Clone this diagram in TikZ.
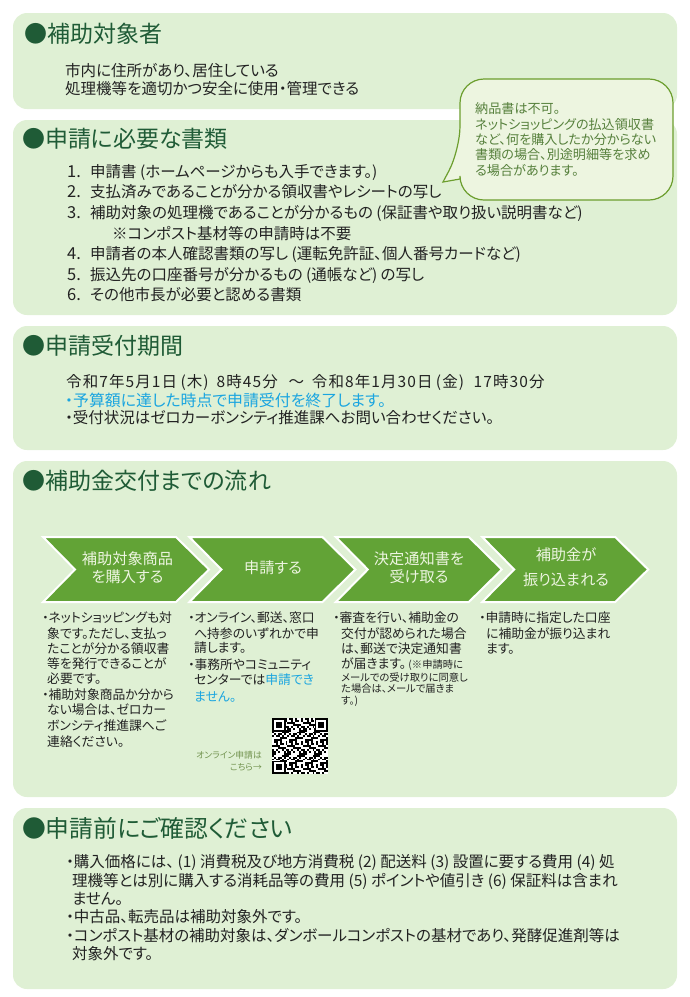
\documentclass[tikz,border=0pt]{standalone}
\usepackage{fontspec}
\setmainfont{Noto Sans CJK JP}[RawFeature=+palt]
\definecolor{panelgreen}{HTML}{DFF0D4}
\definecolor{headgreen}{HTML}{1F5B36}
\definecolor{arrowgreen}{HTML}{62A336}
\definecolor{notefill}{HTML}{EDF5E0}
\definecolor{noteline}{HTML}{6C9E2E}
\definecolor{notetext}{HTML}{56803C}
\definecolor{bodyink}{HTML}{222222}
\definecolor{skyblue}{HTML}{1AA5E0}
\definecolor{labelolive}{HTML}{72934F}
\newcommand{\lp}{\hspace{.22em}(}
\newcommand{\rp}{)\hspace{.22em}}
\tikzset{
  panel/.style={fill=panelgreen,rounded corners=14pt},
  txt/.style={anchor=west,inner sep=0pt,text=bodyink,font=\fontsize{15.5}{18}\selectfont},
  heading/.style={txt,text=headgreen,font=\fontsize{23}{26}\selectfont},
  small/.style={txt,font=\fontsize{12.8}{15}\selectfont},
  tiny/.style={txt,font=\fontsize{10.3}{12}\selectfont},
  notetxt/.style={txt,text=notetext,font=\fontsize{13.1}{15}\selectfont},
  arrowlabel/.style={inner sep=0pt,text=notefill,font=\fontsize{15.2}{18}\selectfont},
  chevron/.style={fill=arrowgreen,draw=white,line width=2pt,line join=miter},
}
\begin{document}
\begin{tikzpicture}[x=1pt,y=-1pt]
\useasboundingbox (0,0) rectangle (690,997);
% panels
\foreach \top/\bot in {13/109,120/315,326/450,461/797,808/989}
  \fill[panel] (13,\top) rectangle (677,\bot);
% headings
\node[heading] (headwho) at (24,34) {●補助対象者};
\node[heading] (headdocs) at (22,139) {●申請に必要な書類};
\node[heading] (headperiod) at (22,346) {●申請受付期間};
\node[heading] (headflow) at (22,481) {●補助金交付までの流れ};
\node[heading,font=\fontsize{23.8}{26}\selectfont] (headcheck) at (22,828) {●申請前にご確認ください};
% who
\node[txt] (who1) at (65,71) {市内に住所があり、居住している};
\node[txt] (who2) at (65,89) {処理機等を適切かつ安全に使用・管理できる};
% documents
\foreach \n/\y/\t in {1/172/{申請書\lp ホームページからも入手できます。\rp},
  2/192/{支払済みであることが分かる領収書やレシートの写し},
  3/213/{補助対象の処理機であることが分かるもの\lp 保証書や取り扱い説明書など\rp},
  4/254/{申請者の本人確認書類の写し\lp 運転免許証、個人番号カードなど\rp},
  5/275/{振込先の口座番号が分かるもの\lp 通帳など\rp の写し},
  6/295/{その他市長が必要と認める書類}}
  \node[txt] (doc\n) at (67,\y) {\makebox[23pt][l]{\fontsize{16.5}{18}\selectfont\n.}\t};
\node[txt] (docnote) at (112,234) {※コンポスト基材等の申請時は不要};
% note
\draw[fill=notefill,draw=noteline,line width=1.2pt]
  (460,150) [sharp corners] -- (443,182) -- (460,179) [rounded corners=24pt]
  -- (460,200) -- (673,200) -- (673,79) -- (460,79) -- cycle;
\foreach \y/\t in {109/{納品書は不可。},124.5/{ネットショッピングの払込領収書},140/{など、何を購入したか分からない},155/{書類の場合、別途明細等を求め},170.5/{る場合があります。}}
  \node[notetxt] at (475,\y) {\t};
% period
\node[txt] (period1) at (66,382) {\addfontfeatures{LetterSpace=7}令和7年5月1日\lp 木\rp\hspace{.3em}8時45分\hspace{.7em}～\hspace{.5em}令和8年1月30日\lp 金\rp\hspace{.4em}17時30分};
\node[txt,text=skyblue,font=\fontsize{15.9}{18}\selectfont] (period2) at (65,400) {・予算額に達した時点で申請受付を終了します。};
\node[txt] (period3) at (65,418) {・受付状況はゼロカーボンシティ推進課へお問い合わせください。};
% flow
\foreach \x in {43,189.4,335.8,482.2}
  \draw[chevron] (\x,537) -- ++(133,0) -- ++(33,32.5) -- ++(-33,32.5) -- ++(-133,0) -- ++(32,-32.5) -- cycle;
\node[arrowlabel] (buy1) at (127.5,559) {補助対象商品};
\node[arrowlabel] (buy2) at (127.5,577) {を購入する};
\node[arrowlabel] (apply) at (273,568) {申請する};
\node[arrowlabel] (get1) at (419,559) {決定通知書を};
\node[arrowlabel] (get2) at (419,577) {受け取る};
\node[arrowlabel] (pay1) at (566,555) {補助金が};
\node[arrowlabel] (pay2) at (566,580) {振り込まれる};
\foreach \x/\y/\t in {42/618/{・ネットショッピングも対},47/634/{象です。ただし、支払っ},47/649/{たことが分かる領収書},47/664/{等を発行できることが},47/679/{必要です。},42/695/{・補助対象商品か分から},47/710/{ない場合は、ゼロカー},47/726/{ボンシティ推進課へご},47/742/{連絡ください。},
  188/618/{・オンライン、郵送、窓口},194/634/{へ持参のいずれかで申},194/648/{請します。},188/665/{・事務所やコミュニティ},
  333/618/{・審査を行い、補助金の},341/634/{交付が認められた場合},341/649/{は、郵送で決定通知書},
  479/618/{・申請時に指定した口座},486/634/{に補助金が振り込まれ},486/649/{ます。}}
  \node[small] at (\x,\y) {\t};
\node[small] (apply5) at (194,680) {センターでは\textcolor{skyblue}{申請でき}};
\node[small,text=skyblue] (apply6) at (194,697) {ません。};
\node[small] (check4) at (341,664) {が届きます。{\fontsize{10.3}{12}\selectfont\lp ※申請時に}};
\foreach \y/\t in {677.5/{メールでの受け取りに同意し},689/{た場合は、メールで届きま},701.5/{す。)}}
  \node[tiny] at (341,\y) {\t};
% qr code
\fill[white] (272,718) rectangle (328,774);
\foreach \qr in {0,...,28}
  \foreach \qc in {0,...,28} {
    \ifodd\numexpr(\qr*\qr*3+\qc*\qc*5+\qr*\qc*7+\qr/3+\qc/2)/2\relax
      \fill[black] ({272+\qc*1.93},{718+\qr*1.93}) rectangle ++(1.93,1.93);
    \fi
  }
\foreach \x/\y in {272/718,314.5/718,272/760.5} {
  \fill[white] (\x,\y) rectangle ++(13.5,13.5);
  \fill[black] (\x,\y) rectangle ++(13.5,13.5);
  \fill[white] (\x+1.9,\y+1.9) rectangle ++(9.7,9.7);
  \fill[black] (\x+3.9,\y+3.9) rectangle ++(5.7,5.7);
}
\node[anchor=east,inner sep=0pt,align=right,text=labelolive,font=\fontsize{8.8}{11.4}\selectfont] (qrlabel) at (262,761) {オンライン申請は\\こちら→};
% check
\foreach \x/\y/\t in {66/862/{・購入価格には、\lp 1\rp 消費税及び地方消費税\lp 2\rp 配送料\lp 3\rp 設置に要する費用\lp 4\rp 処},
  72/881/{理機等とは別に購入する消耗品等の費用\lp 5\rp ポイントや値引き\lp 6\rp 保証料は含まれ},
  72/899/{ません。},
  66/917/{・中古品、転売品は補助対象外です。},
  66/936/{・コンポスト基材の補助対象は、ダンボールコンポストの基材であり、発酵促進剤等は},
  72/954/{対象外です。}}
  \node[txt] at (\x,\y) {\t};
\end{tikzpicture}
\end{document}
